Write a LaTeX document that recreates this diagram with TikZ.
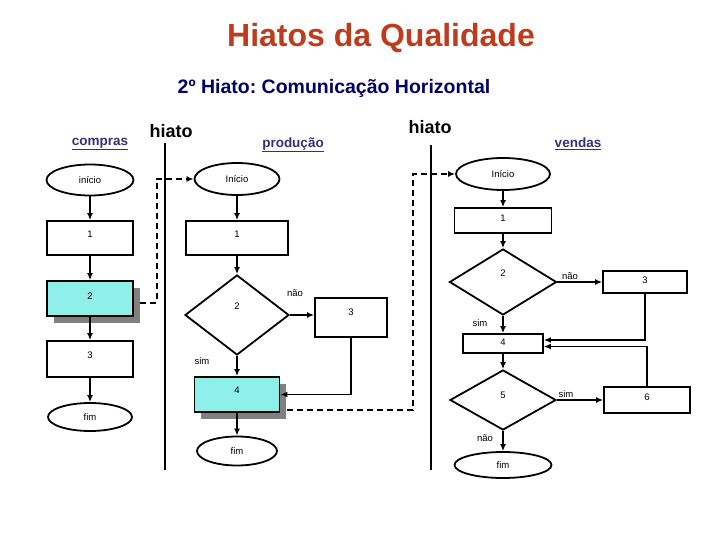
\documentclass[tikz,border=0pt]{standalone}
\usepackage{fontspec}
\setmainfont{Liberation Sans}
\usetikzlibrary{shapes.geometric,arrows.meta,shadows}
\definecolor{titlered}{RGB}{192,58,28}
\definecolor{subnavy}{RGB}{0,0,102}
\definecolor{colhead}{RGB}{50,50,120}
\definecolor{stepcyan}{RGB}{142,240,232}
\frenchspacing

\begin{document}
\begin{tikzpicture}[x=1pt, y=-1pt, line width=1.8pt,
  every node/.style={font=\fontsize{9.5}{11}\selectfont, inner sep=0pt},
  procbox/.style={draw, rectangle, text depth=8pt},
  hibox/.style={procbox, fill=stepcyan, drop shadow={shadow xshift=6.5pt, shadow yshift=-6.5pt, fill=black!50, opacity=1}},
  termin/.style={draw, ellipse},
  decis/.style={draw, diamond, text depth=18pt},
  flow/.style={-{Latex[length=7pt,width=6pt]}},
  handoff/.style={flow, dash pattern=on 6pt off 4pt},
  hiatoline/.style={line width=2pt},
  colname/.style={font=\fontsize{13.5}{15}\selectfont\bfseries, text=colhead},
  hiatotxt/.style={font=\fontsize{18}{20}\selectfont\bfseries}]
  \useasboundingbox (0,0) rectangle (720,540);

  \node[font=\fontsize{32}{36}\selectfont\bfseries, text=titlered] (title) at (381,38) {Hiatos da Qualidade};
  \node[font=\fontsize{19.5}{22}\selectfont\bfseries, text=subnavy] (subtitle) at (334,88) {2º Hiato: Comunicação Horizontal};

  \node[colname] (compras) at (100,144) {\underline{compras}};
  \node[colname] (producao) at (293,145) {\underline{produção}};
  \node[colname] (vendas) at (578,144) {\underline{vendas}};
  \node[hiatotxt] (hiatoA) at (171,131) {hiato};
  \node[hiatotxt] (hiatoB) at (430,127) {hiato};
  \draw[hiatoline] (165,143) -- (165,470);
  \draw[hiatoline] (431,145) -- (431,470);

  \node[termin, minimum width=87pt, minimum height=31pt] (cIni) at (90,180) {início};
  \node[procbox, minimum width=86pt, minimum height=34pt] (c1) at (90,238) {1};
  \node[hibox, minimum width=86pt, minimum height=35pt, text depth=5pt] (c2) at (90,298.5) {2};
  \node[procbox, minimum width=86pt, minimum height=36pt] (c3) at (90,359) {3};
  \node[termin, minimum width=84pt, minimum height=28pt] (cFim) at (90,417) {fim};
  \draw[flow] (cIni) -- (c1);
  \draw[flow] (c1) -- (c2);
  \draw[flow] (c2) -- (c3);
  \draw[flow] (c3) -- (cFim);

  \node[termin, minimum width=85pt, minimum height=32pt] (pIni) at (237,179) {Início};
  \node[procbox, minimum width=102pt, minimum height=34pt] (p1) at (237,238) {1};
  \node[decis, minimum width=104pt, minimum height=80pt] (p2) at (237,315) {2};
  \node[procbox, minimum width=72pt, minimum height=39pt, text depth=10pt] (p3) at (351,317.5) {3};
  \node[hibox, minimum width=85pt, minimum height=35pt] (p4) at (237,394.5) {4};
  \node[termin, minimum width=80pt, minimum height=29pt] (pFim) at (237,451) {fim};
  \node (pNao) at (295,293) {não};
  \node (pSim) at (202,361) {sim};
  \draw[flow] (pIni) -- (p1);
  \draw[flow] (p1) -- (p2);
  \draw[flow] (p2.east) -- (p3.west |- p2.east);
  \draw[flow] (p2) -- (p4);
  \draw[flow] (p3.south) |- (p4.east);
  \draw[flow] (p4) -- (pFim);

  \node[termin, minimum width=94pt, minimum height=32pt] (vIni) at (503,174) {Início};
  \node[procbox, minimum width=97pt, minimum height=25pt, text depth=4pt] (v1) at (503,220.5) {1};
  \node[decis, minimum width=107pt, minimum height=66pt] (v2) at (503,282) {2};
  \node[procbox, minimum width=84pt, minimum height=22pt, text depth=4pt] (v3) at (645,282) {3};
  \node[procbox, minimum width=80pt, minimum height=19pt, text depth=2pt] (v4) at (503,343.5) {4};
  \node[decis, minimum width=106pt, minimum height=60pt, text depth=9pt] (v5) at (503,400) {5};
  \node[procbox, minimum width=86pt, minimum height=26pt, text depth=5pt] (v6) at (647,400) {6};
  \node[termin, minimum width=97pt, minimum height=26pt] (vFim) at (503,465) {fim};
  \node (vNaoA) at (570,276) {não};
  \node (vSimA) at (480,323) {sim};
  \node (vSimB) at (566,394) {sim};
  \node (vNaoB) at (485,438) {não};
  \draw[flow] (vIni) -- (v1);
  \draw[flow] (v1) -- (v2);
  \draw[flow] (v2) -- (v3);
  \draw[flow] (v2) -- (v4);
  \draw[flow] (v3.south) |- ([yshift=3.5pt]v4.east);
  \draw[flow] (v6.north) |- ([yshift=-3pt]v4.east);
  \draw[flow] (v4) -- (v5);
  \draw[flow] (v5) -- (v6);
  \draw[flow] (v5) -- (vFim);

  \draw[handoff] ([xshift=6.5pt,yshift=-4.5pt]c2.east) -| ([xshift=-37pt]pIni.west) -- (pIni.west);
  \draw[handoff] ([xshift=7pt,yshift=-15.5pt]p4.east) -| ([xshift=-42pt]vIni.west) -- (vIni.west);
\end{tikzpicture}
\end{document}
